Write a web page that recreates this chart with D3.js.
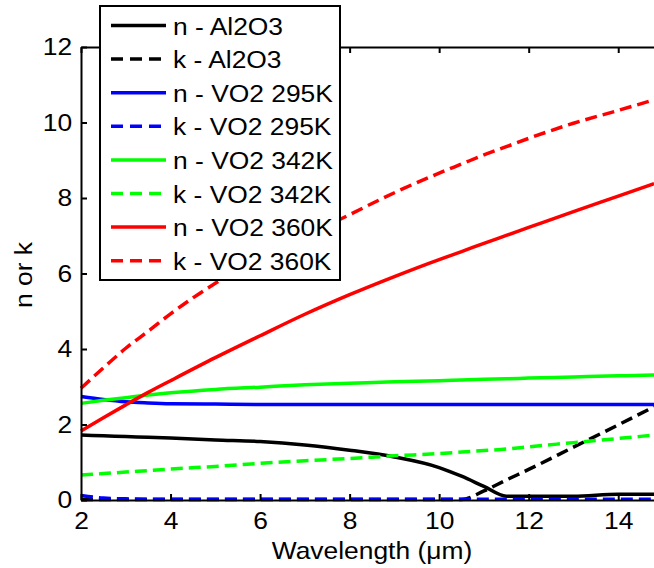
<!DOCTYPE html>
<html>
<head>
<meta charset="utf-8">
<script src="https://cdn.jsdelivr.net/npm/d3@7"></script>
<style>
  html, body { margin: 0; padding: 0; background: #fff; }
  svg { display: block; font-family: "Liberation Sans", Arial, sans-serif; }
</style>
</head>
<body>
<svg id="chart" width="654" height="568"></svg>
<script>
// --- data ---
const wavelength = [2, 2.5, 3, 3.5, 4, 5, 6, 7, 8, 9, 10, 10.5, 11, 11.5, 12, 13, 14, 14.8];

const nAl2O3  = [1.72, 1.70, 1.68, 1.66, 1.64, 1.59, 1.55, 1.46, 1.32, 1.14, 0.86, 0.63, 0.36, 0.10, 0.10, 0.10, 0.15, 0.15];
const kAl2O3  = [0.01, 0.01, 0.01, 0.01, 0.01, 0.01, 0.01, 0.01, 0.01, 0.01, 0.01, 0.01, 0.24, 0.53, 0.81, 1.40, 1.99, 2.47];
const nVO2295 = [2.74, 2.66, 2.60, 2.57, 2.55, 2.54, 2.53, 2.53, 2.53, 2.53, 2.53, 2.53, 2.53, 2.53, 2.53, 2.53, 2.53, 2.53];
const kVO2295 = [0.12, 0.05, 0.03, 0.02, 0.02, 0.02, 0.02, 0.02, 0.02, 0.02, 0.02, 0.02, 0.02, 0.02, 0.02, 0.02, 0.02, 0.02];
const nVO2342 = [2.56, 2.64, 2.71, 2.78, 2.84, 2.93, 2.99, 3.05, 3.09, 3.13, 3.16, 3.18, 3.20, 3.21, 3.23, 3.26, 3.29, 3.31];
const kVO2342 = [0.66, 0.70, 0.74, 0.78, 0.82, 0.89, 0.97, 1.04, 1.10, 1.17, 1.23, 1.27, 1.31, 1.35, 1.41, 1.52, 1.63, 1.72];
const nVO2360 = [1.83, 2.18, 2.52, 2.85, 3.16, 3.77, 4.35, 4.92, 5.44, 5.92, 6.37, 6.58, 6.80, 7.01, 7.22, 7.64, 8.05, 8.38];
const kVO2360 = [2.96, 3.50, 4.02, 4.47, 4.93, 5.74, 6.40, 6.98, 7.56, 8.14, 8.66, 8.90, 9.14, 9.36, 9.58, 9.98, 10.32, 10.60];

const seriesLabels = ['n - Al2O3', 'k - Al2O3', 'n - VO2 295K', 'k - VO2 295K',
                      'n - VO2 342K', 'k - VO2 342K', 'n - VO2 360K', 'k - VO2 360K'];
const seriesValues = [nAl2O3, kAl2O3, nVO2295, kVO2295, nVO2342, kVO2342, nVO2360, kVO2360];
const seriesColors = ['#000000', '#000000', '#0000ff', '#0000ff', '#00ff00', '#00ff00', '#ff0000', '#ff0000'];
const seriesDashed = [false, true, false, true, false, true, false, true];

const xTicks = [2, 4, 6, 8, 10, 12, 14];
const yTicks = [0, 2, 4, 6, 8, 10, 12];

// --- layout ---
const plot = { left: 81, top: 47, right: 663, bottom: 500 };
const FONT = 24;
const STRETCH = 1.1;   // glyphs in the figure are a bit wider than plain Arial

const svg = d3.select('#chart');

const x = d3.scaleLinear().domain([2, 15]).range([plot.left, plot.right]);
const y = d3.scaleLinear().domain([0, 12]).range([plot.bottom, plot.top]);

// --- lines ---
const line = d3.line()
  .x((d, i) => x(wavelength[i]))
  .y(d => y(d))
  .curve(d3.curveMonotoneX);

const lines = svg.append('g');
seriesValues.forEach((vals, i) => {
  lines.append('path')
    .attr('d', line(vals))
    .attr('fill', 'none')
    .attr('stroke', seriesColors[i])
    .attr('stroke-width', 3.5)
    .attr('stroke-dasharray', seriesDashed[i] ? '12,6' : null);
});

// --- axes box, ticks pointing inwards ---
function styleAxis(g) {
  g.select('.domain').attr('stroke', '#000').attr('stroke-width', 2);
  g.selectAll('.tick line').attr('stroke', '#000').attr('stroke-width', 2);
  g.selectAll('.tick text')
    .attr('fill', '#000')
    .style('font-size', FONT + 'px')
    .style('font-family', '"Liberation Sans", Arial, sans-serif');
}

svg.append('g')
  .attr('transform', `translate(0,${plot.bottom})`)
  .call(d3.axisBottom(x).tickValues(xTicks).tickSizeInner(-6).tickSizeOuter(0).tickPadding(12))
  .call(styleAxis)
  .call(g => g.selectAll('.tick text').attr('transform', `scale(${STRETCH},1)`));

svg.append('g')
  .attr('transform', `translate(0,${plot.top})`)
  .call(d3.axisTop(x).tickValues(xTicks).tickSizeInner(-6).tickSizeOuter(0).tickFormat(''))
  .call(styleAxis);

svg.append('g')
  .attr('transform', `translate(${plot.left},0)`)
  .call(d3.axisLeft(y).tickValues(yTicks).tickSizeInner(-6).tickSizeOuter(0).tickPadding(8))
  .call(styleAxis)
  .call(g => g.selectAll('.tick text').attr('transform', `scale(${STRETCH},1)`));

svg.append('g')
  .attr('transform', `translate(${plot.right},0)`)
  .call(d3.axisRight(y).tickValues(yTicks).tickSizeInner(-6).tickSizeOuter(0).tickFormat(''))
  .call(styleAxis);

// --- axis titles ---
svg.append('text')
  .attr('transform', `translate(${(plot.left + plot.right) / 2},559) scale(${STRETCH},1)`)
  .attr('text-anchor', 'middle')
  .style('font-size', FONT + 'px')
  .text('Wavelength (\u03bcm)');

svg.append('text')
  .attr('transform', `translate(32,275) rotate(-90) scale(${STRETCH},1)`)
  .attr('text-anchor', 'middle')
  .style('font-size', FONT + 'px')
  .text('n or k');

// --- legend ---
const legend = { x0: 100, y0: 6, x1: 340, y1: 280, firstRow: 25.5, rowStep: 33.6 };
const lg = svg.append('g');
lg.append('rect')
  .attr('x', legend.x0).attr('y', legend.y0)
  .attr('width', legend.x1 - legend.x0).attr('height', legend.y1 - legend.y0)
  .attr('fill', '#fff').attr('stroke', '#000').attr('stroke-width', 2);

seriesLabels.forEach((label, i) => {
  const cy = legend.firstRow + i * legend.rowStep;
  lg.append('line')
    .attr('x1', 111).attr('x2', 166).attr('y1', cy).attr('y2', cy)
    .attr('stroke', seriesColors[i])
    .attr('stroke-width', 3.5)
    .attr('stroke-dasharray', seriesDashed[i] ? '12,7' : null);
  lg.append('text')
    .attr('transform', `translate(173,${cy + 9}) scale(${STRETCH},1)`)
    .style('font-size', FONT + 'px')
    .text(label);
});
</script>
</body>
</html>
